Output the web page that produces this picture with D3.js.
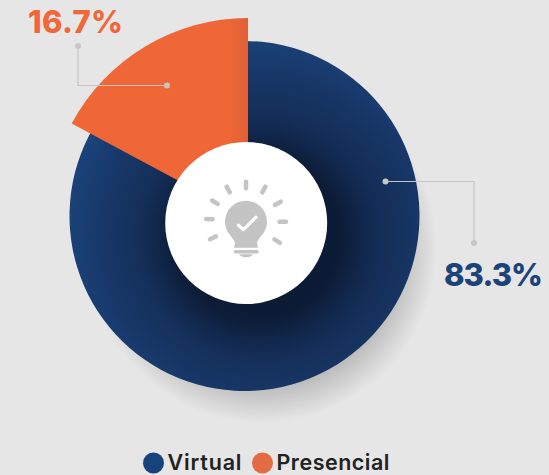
<!doctype html>
<html>
  <head>
    <script src="https://cdn.jsdelivr.net/npm/d3@7"></script>
    <style>
      html, body { margin: 0; padding: 0; background: #e6e6e6; }
      svg { display: block; }
      text { font-family: Inter, "Open Sans", sans-serif; }
    </style>
  </head>
  <body>
    <div id="my_dataviz"></div>
    <script>
      // values
      var categories = ["Virtual", "Presencial"];
      var shares = [83.3, 16.7];
      var shareLabels = ["83.3%", "16.7%"];

      var width = 549, height = 475;
      var blue = "#1a4379", orange = "#ef6637", lineGrey = "#c6c6c6";

      var svg = d3.select("#my_dataviz")
        .append("svg")
        .attr("width", width)
        .attr("height", height);

      var defs = svg.append("defs");

      // soft shadow behind the pie
      var shadow = defs.append("radialGradient").attr("id", "shadowFill");
      shadow.append("stop").attr("offset", "0.8").attr("stop-color", "#bdbdbd");
      shadow.append("stop").attr("offset", "0.9").attr("stop-color", "#d2d2d2");
      shadow.append("stop").attr("offset", "1").attr("stop-color", "#e6e6e6");

      // blue gets lighter towards the left rim
      var blueFill = defs.append("radialGradient")
        .attr("id", "blueFill")
        .attr("gradientUnits", "userSpaceOnUse")
        .attr("cx", 20).attr("cy", 20).attr("r", 215);
      blueFill.append("stop").attr("offset", "0.35").attr("stop-color", "#10254a");
      blueFill.append("stop").attr("offset", "0.6").attr("stop-color", "#15305b");
      blueFill.append("stop").attr("offset", "0.78").attr("stop-color", "#18396b");
      blueFill.append("stop").attr("offset", "0.95").attr("stop-color", "#1b447c");

      // shadow of the white circle, falls on the blue only
      var holeShadow = defs.append("radialGradient").attr("id", "holeShadow");
      holeShadow.append("stop").attr("offset", "0.68").attr("stop-color", "#0a1528").attr("stop-opacity", 0.6);
      holeShadow.append("stop").attr("offset", "0.84").attr("stop-color", "#0a1528").attr("stop-opacity", 0.22);
      holeShadow.append("stop").attr("offset", "1").attr("stop-color", "#0a1528").attr("stop-opacity", 0);

      var orangeFill = defs.append("linearGradient").attr("id", "orangeFill");
      orangeFill.append("stop").attr("offset", "0.9").attr("stop-color", orange);
      orangeFill.append("stop").attr("offset", "1").attr("stop-color", "#dc6138");

      svg.append("circle")
        .attr("cx", 262).attr("cy", 248).attr("r", 175)
        .attr("fill", "url(#shadowFill)");

      // the pie, the smaller share pulled out and drawn bigger
      var pie = d3.pie().sort(null);
      var slices = pie(shares);
      var sliceStyle = [
        { x: 244.5, y: 216, r: 175, fill: "url(#blueFill)", endPad: 0.06, startPad: 0 },
        { x: 248, y: 218, r: 200, fill: "url(#orangeFill)", endPad: 0, startPad: 0.03 }
      ];
      svg.selectAll("path.slice")
        .data(slices)
        .enter()
        .append("path")
        .attr("class", "slice")
        .attr("transform", function(d, i) { return "translate(" + sliceStyle[i].x + "," + sliceStyle[i].y + ")"; })
        .attr("d", function(d, i) {
          var s = sliceStyle[i];
          return d3.arc().innerRadius(0).outerRadius(s.r)
            .startAngle(d.startAngle - s.startPad)
            .endAngle(d.endAngle + s.endPad)();
        })
        .attr("fill", function(d, i) { return sliceStyle[i].fill; });

      // goes under the orange slice
      svg.insert("circle", function() { return svg.selectAll("path.slice").nodes()[1]; })
        .attr("cx", 258).attr("cy", 238).attr("r", 120)
        .attr("fill", "url(#holeShadow)");

      svg.append("circle")
        .attr("cx", 246.2).attr("cy", 223).attr("r", 81)
        .attr("fill", "#fff");

      // bulb icon
      var icon = svg.append("g").attr("transform", "translate(246,221.7)");
      var rayAngles = [0, 29, 60, 90, 122, -29, -58, -86, -116];
      icon.selectAll("line.ray")
        .data(rayAngles)
        .enter()
        .append("line")
        .attr("class", "ray")
        .attr("transform", function(d) { return "rotate(" + d + ")"; })
        .attr("y1", -33.5).attr("y2", -40)
        .attr("stroke", "#c4c4c4")
        .attr("stroke-width", 4.5)
        .attr("stroke-linecap", "round");
      icon.append("path")
        .attr("d", "M-12,26 L-11,21 C-12,16 -21,11 -21,0 A21,21 0 0 1 21,0 C21,11 12,16 11,21 L12,26 Z")
        .attr("fill", "#c4c4c4");
      icon.append("line")
        .attr("x1", -10.5).attr("x2", 11).attr("y1", 30).attr("y2", 30)
        .attr("stroke", "#c4c4c4").attr("stroke-width", 3.6).attr("stroke-linecap", "round");
      icon.append("path")
        .attr("d", "M-7,32.5 H7 C5,36.5 -5,36.5 -7,32.5 Z")
        .attr("fill", "#c4c4c4");
      icon.append("path")
        .attr("d", "M-7.5,3.5 L-2.5,8 L10,-4.5")
        .attr("fill", "none").attr("stroke", "#fff")
        .attr("stroke-width", 3.2).attr("stroke-linecap", "round").attr("stroke-linejoin", "round");

      // leader lines
      var leaders = [
        { d: "M385.5,181.5 H474 V243", ends: [[385.5, 181.5], [474, 243]] },
        { d: "M78,46 V85.5 H167", ends: [[78, 46], [167, 85.5]] }
      ];
      leaders.forEach(function(l) {
        svg.append("path").attr("d", l.d).attr("fill", "none")
          .attr("stroke", lineGrey).attr("stroke-width", 1.2);
        svg.selectAll(null).data(l.ends).enter().append("circle")
          .attr("cx", function(d) { return d[0]; })
          .attr("cy", function(d) { return d[1]; })
          .attr("r", 3)
          .attr("fill", lineGrey);
      });

      // percentage labels
      var labelPos = [[444, 286, blue, 99], [28, 33, "#f0683a", 95]];
      svg.selectAll("text.share")
        .data(shareLabels)
        .enter()
        .append("text")
        .attr("class", "share")
        .attr("x", function(d, i) { return labelPos[i][0]; })
        .attr("y", function(d, i) { return labelPos[i][1]; })
        .attr("textLength", function(d, i) { return labelPos[i][3]; })
        .attr("fill", function(d, i) { return labelPos[i][2]; })
        .attr("font-size", 31)
        .attr("font-weight", 800)
        .text(function(d) { return d; });

      // legend
      var legendColor = d3.scaleOrdinal().domain(categories).range(["#17427c", "#e36b44"]);
      var legendX = d3.scaleOrdinal().domain(categories).range([153.5, 262.5]);
      var legendLen = d3.scaleOrdinal().domain(categories).range([74, 113]);
      var legend = svg.selectAll("g.legend")
        .data(categories)
        .enter()
        .append("g")
        .attr("class", "legend")
        .attr("transform", function(d) { return "translate(" + legendX(d) + ",463)"; });
      legend.append("circle").attr("r", 10.5).attr("fill", function(d) { return legendColor(d); });
      legend.append("text")
        .attr("x", 14)
        .attr("y", 7)
        .attr("textLength", function(d) { return legendLen(d); })
        .attr("fill", "#222")
        .attr("font-size", 21.5)
        .attr("font-weight", 600)
        .text(function(d) { return d; });
    </script>
  </body>
</html>
